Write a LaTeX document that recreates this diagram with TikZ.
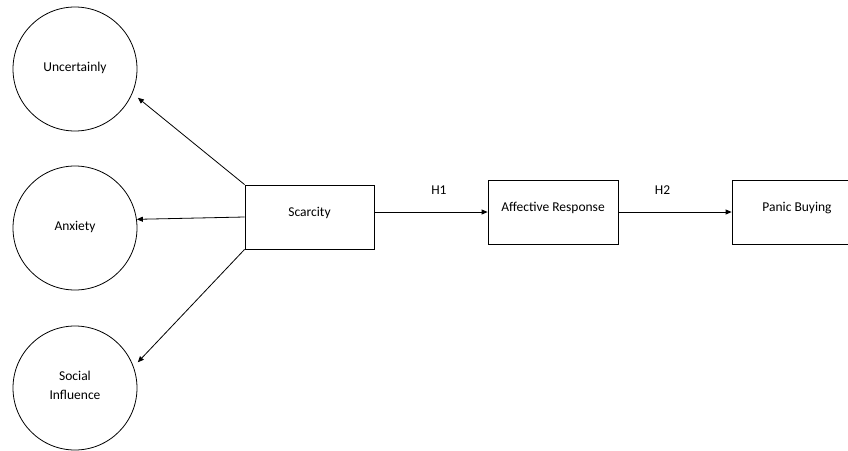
\documentclass[tikz,border=0pt]{standalone}
\usepackage{fontspec}
\setmainfont{Carlito}
\usetikzlibrary{positioning,arrows.meta}

\begin{document}
\begin{tikzpicture}[x=1pt, y=-1pt, line width=0.8pt,
        every node/.style={font=\fontsize{13.5}{19}\selectfont},
        construct/.style={draw, circle, minimum size=124pt, inner sep=1pt, align=center, text depth=5pt},
        block/.style={draw, rectangle, minimum width=129pt, minimum height=64pt, text height=9pt, text depth=11pt},
        link/.style={-{Triangle[length=6pt,width=5pt]}}]
        \useasboundingbox (0,0) rectangle (848,450);
        \clip (0,0) rectangle (848,450);

        % Left constructs
        \node[construct] (unc) at (75,69) {Uncertainly};
        \node[construct] (anx) at (75,228) {Anxiety};
        \node[construct] (soc) at (75,388) {Social\\Influence};

        % Main path
        \node[block] (scar) at (309.5,217) {Scarcity};
        \node[block, minimum width=130pt] (aff) at (553,212) {Affective Response};
        \node[block, minimum width=130pt] (pb) at (797,212) {Panic Buying};

        % Arrows to the left
        \draw[link, shorten >=7pt] (scar.north west) -- (unc.-23);
        \draw[link] (scar.west) -- (anx.8);
        \draw[link, shorten >=6pt] (scar.south west) -- (soc.20);

        % Hypotheses
        \draw[link] (scar.east |- aff.west) -- (aff.west) node[pos=0.57, above=14pt] (h1) {H1};
        \draw[link] (aff.east) -- (pb.west) node[pos=0.39, above=14pt] (h2) {H2};
    \end{tikzpicture}
\end{document}
